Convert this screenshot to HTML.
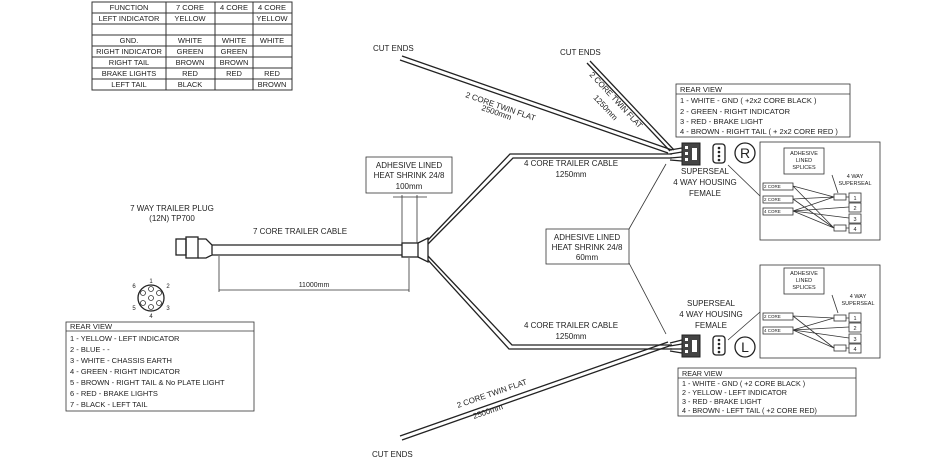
<!DOCTYPE html>
<html><head><meta charset="utf-8"><style>
html,body{margin:0;padding:0;background:#fff}
svg{display:block}
text{font-family:"Liberation Sans",sans-serif;fill:#222}
</style></head><body>
<svg width="945" height="462" viewBox="0 0 945 462" xmlns="http://www.w3.org/2000/svg">
<g stroke="#333" fill="none" stroke-width="1">
<rect x="92" y="2" width="200" height="88"/>
<line x1="166" y1="2" x2="166" y2="90"/><line x1="215" y1="2" x2="215" y2="90"/><line x1="253" y1="2" x2="253" y2="90"/>
<line x1="92" y1="13" x2="292" y2="13"/><line x1="92" y1="24" x2="292" y2="24"/><line x1="92" y1="35" x2="292" y2="35"/>
<line x1="92" y1="46" x2="292" y2="46"/><line x1="92" y1="57" x2="292" y2="57"/><line x1="92" y1="68" x2="292" y2="68"/><line x1="92" y1="79" x2="292" y2="79"/>
</g>
<g font-size="7.5" text-anchor="middle">
<text x="129" y="10">FUNCTION</text><text x="190" y="10">7 CORE</text><text x="234" y="10">4 CORE</text><text x="272" y="10">4 CORE</text>
<text x="129" y="21">LEFT INDICATOR</text><text x="190" y="21">YELLOW</text><text x="272" y="21">YELLOW</text>
<text x="129" y="43">GND.</text><text x="190" y="43">WHITE</text><text x="234" y="43">WHITE</text><text x="272" y="43">WHITE</text>
<text x="129" y="54">RIGHT INDICATOR</text><text x="190" y="54">GREEN</text><text x="234" y="54">GREEN</text>
<text x="129" y="65">RIGHT TAIL</text><text x="190" y="65">BROWN</text><text x="234" y="65">BROWN</text>
<text x="129" y="76">BRAKE LIGHTS</text><text x="190" y="76">RED</text><text x="234" y="76">RED</text><text x="272" y="76">RED</text>
<text x="129" y="87">LEFT TAIL</text><text x="190" y="87">BLACK</text><text x="272" y="87">BROWN</text>
</g>

<g stroke="#222" fill="none" stroke-width="1.3">
<rect x="176" y="239" width="10" height="16"/>
<rect x="186" y="237" width="12" height="21"/>
<path d="M198 239 L206 239 L212 245 L212 255 L206 258 L198 258"/>
<line x1="212" y1="245" x2="402" y2="245"/><line x1="212" y1="255" x2="402" y2="255"/>
<rect x="402" y="243" width="16" height="14"/>
<path d="M418 243 L428 238 L428 262 L418 257"/>
<path d="M428 240 L510 154 L672 154"/><path d="M428 244 L513 158 L672 158"/>
<path d="M428 256 L512 345 L672 345"/><path d="M428 260 L509 349 L672 349"/>
<path d="M402 56 L672 150"/><path d="M400 60 L668 153"/>
<path d="M590 61 L674 150"/><path d="M587 63 L670 151"/>
<path d="M402 440 L672 345"/><path d="M400 436 L668 342"/>
<path d="M670 150 L682 148 M670 154 L682 152 M670 158 L682 157 M670 160 L682 161"/>
<path d="M670 343 L682 340 M670 346 L682 344 M670 349 L682 349 M670 351 L682 353"/>
<rect x="713" y="144" width="12" height="19" rx="3"/>
<rect x="713" y="336" width="12" height="19" rx="3"/>
<circle cx="745" cy="153" r="10"/><circle cx="745" cy="347" r="10"/>
<circle cx="151" cy="298" r="13"/>
</g>
<g fill="#444" stroke="#222">
<rect x="682" y="143" width="18" height="22"/><rect x="682" y="335" width="18" height="22"/>
</g>
<g fill="#fff"><rect x="685" y="146" width="3" height="3"/><rect x="685" y="152" width="3" height="3"/><rect x="685" y="158" width="3" height="3"/><rect x="692" y="148" width="5" height="12"/>
<rect x="685" y="338" width="3" height="3"/><rect x="685" y="344" width="3" height="3"/><rect x="685" y="350" width="3" height="3"/><rect x="692" y="340" width="5" height="12"/></g>
<g fill="#222"><circle cx="719" cy="148" r="1.3"/><circle cx="719" cy="152" r="1.3"/><circle cx="719" cy="156" r="1.3"/><circle cx="719" cy="160" r="1.3"/>
<circle cx="719" cy="340" r="1.3"/><circle cx="719" cy="344" r="1.3"/><circle cx="719" cy="348" r="1.3"/><circle cx="719" cy="352" r="1.3"/></g>
<g fill="none" stroke="#333" stroke-width="0.8">
<circle cx="151" cy="289" r="2.5"/><circle cx="159" cy="293" r="2.5"/><circle cx="159" cy="303" r="2.5"/><circle cx="151" cy="307" r="2.5"/><circle cx="143" cy="303" r="2.5"/><circle cx="143" cy="293" r="2.5"/><circle cx="151" cy="298" r="2.5"/>
</g>
<g font-size="14" text-anchor="middle"><text x="745" y="158">R</text><text x="745" y="352">L</text></g>
<g font-size="6" text-anchor="middle"><text x="151" y="283">1</text><text x="168" y="288">2</text><text x="168" y="310">3</text><text x="151" y="318">4</text><text x="134" y="310">5</text><text x="134" y="288">6</text></g>

<g stroke="#333" fill="none" stroke-width="0.8">
<line x1="219" y1="256" x2="219" y2="292"/><line x1="409" y1="258" x2="409" y2="292"/><line x1="219" y1="290" x2="409" y2="290"/>
<line x1="402" y1="195" x2="402" y2="243"/><line x1="417" y1="195" x2="417" y2="243"/><line x1="393" y1="197" x2="427" y2="197"/>
<rect x="366" y="157" width="86" height="36"/>
<rect x="546" y="229" width="83" height="35"/>
<line x1="629" y1="229" x2="666" y2="164"/><line x1="629" y1="263" x2="666" y2="334"/>
<rect x="676" y="84" width="174" height="53"/><line x1="676" y1="94" x2="850" y2="94"/>
<rect x="678" y="368" width="178" height="48"/><line x1="678" y1="378" x2="856" y2="378"/>
<rect x="66" y="322" width="188" height="89"/><line x1="66" y1="331" x2="254" y2="331"/>
<rect x="760" y="142" width="120" height="98"/><line x1="760" y1="196" x2="728" y2="165"/>
<rect x="784" y="148" width="40" height="26"/>
<rect x="763" y="183" width="30" height="7"/><rect x="763" y="196" width="30" height="7"/><rect x="763" y="208" width="30" height="7"/>
<rect x="834" y="194" width="12" height="6"/><rect x="834" y="225" width="12" height="6"/>
<rect x="849" y="193" width="12" height="9"/><rect x="849" y="203" width="12" height="9"/><rect x="849" y="214" width="12" height="9"/><rect x="849" y="224" width="12" height="9"/>
<line x1="832" y1="175" x2="838" y2="193"/>
<path d="M793 186 L834 197 M793 199 L834 197 M793 211 L834 197 M793 186 L834 228 M793 199 L834 228 M793 211 L834 228 M793 211 L849 207 M793 211 L849 218 M846 197 L849 197 M846 228 L849 228"/>
<rect x="760" y="265" width="120" height="93"/><line x1="760" y1="312" x2="728" y2="340"/>
<rect x="784" y="268" width="40" height="26"/>
<rect x="763" y="313" width="30" height="7"/><rect x="763" y="327" width="30" height="7"/>
<rect x="834" y="315" width="12" height="6"/><rect x="834" y="345" width="12" height="6"/>
<rect x="849" y="313" width="12" height="9"/><rect x="849" y="323" width="12" height="9"/><rect x="849" y="334" width="12" height="9"/><rect x="849" y="344" width="12" height="9"/>
<line x1="832" y1="295" x2="838" y2="313"/>
<path d="M793 316 L834 318 M793 330 L834 318 M793 316 L834 348 M793 330 L834 348 M793 330 L849 327 M793 330 L849 338 M846 318 L849 318 M846 348 L849 348"/>
</g>

<g font-size="8">
<text x="373" y="51">CUT ENDS</text><text x="560" y="55">CUT ENDS</text><text x="372" y="457">CUT ENDS</text>
<text x="465" y="97" transform="rotate(19 465 97)">2 CORE TWIN FLAT</text>
<text x="481" y="110" transform="rotate(19 481 110)">2500mm</text>
<text x="589" y="75" transform="rotate(47 589 75)">2 CORE TWIN FLAT</text>
<text x="593" y="98" transform="rotate(47 593 98)">1250mm</text>
<text x="458" y="408" transform="rotate(-19 458 408)">2 CORE TWIN FLAT</text>
<text x="474" y="419" transform="rotate(-19 474 419)">2500mm</text>
</g>
<g font-size="8" text-anchor="middle">
<text x="409" y="168">ADHESIVE LINED</text><text x="409" y="178">HEAT SHRINK 24/8</text><text x="409" y="189">100mm</text>
<text x="587" y="240">ADHESIVE LINED</text><text x="587" y="250">HEAT SHRINK 24/8</text><text x="587" y="260">60mm</text>
<text x="571" y="166">4 CORE TRAILER CABLE</text><text x="571" y="177">1250mm</text>
<text x="571" y="328">4 CORE TRAILER CABLE</text><text x="571" y="339">1250mm</text>
<text x="300" y="234">7 CORE TRAILER CABLE</text>
<text x="172" y="211">7 WAY TRAILER PLUG</text><text x="172" y="221">(12N) TP700</text>
<text x="314" y="287" font-size="7">11000mm</text>
<text x="705" y="174">SUPERSEAL</text><text x="705" y="185">4 WAY HOUSING</text><text x="705" y="196">FEMALE</text>
<text x="711" y="306">SUPERSEAL</text><text x="711" y="317">4 WAY HOUSING</text><text x="711" y="328">FEMALE</text>
</g>
<g font-size="5.5" text-anchor="middle">
<text x="804" y="155">ADHESIVE</text><text x="804" y="162">LINED</text><text x="804" y="169">SPLICES</text>
<text x="855" y="178">4 WAY</text><text x="855" y="185">SUPERSEAL</text>
<text x="804" y="275">ADHESIVE</text><text x="804" y="282">LINED</text><text x="804" y="289">SPLICES</text>
<text x="858" y="298">4 WAY</text><text x="858" y="305">SUPERSEAL</text>
<text x="855" y="200">1</text><text x="855" y="210">2</text><text x="855" y="221">3</text><text x="855" y="231">4</text>
<text x="855" y="320">1</text><text x="855" y="330">2</text><text x="855" y="341">3</text><text x="855" y="351">4</text>
</g>
<g font-size="4.5"><text x="764" y="188">2 CORE</text><text x="764" y="201">2 CORE</text><text x="764" y="213">4 CORE</text>
<text x="764" y="318">2 CORE</text><text x="764" y="332">4 CORE</text></g>
<g font-size="7.5">
<text x="680" y="92">REAR VIEW</text>
<text x="680" y="103">1 - WHITE   - GND ( +2x2 CORE BLACK )</text>
<text x="680" y="114">2 - GREEN  - RIGHT INDICATOR</text>
<text x="680" y="124">3 - RED       - BRAKE LIGHT</text>
<text x="680" y="134">4 - BROWN - RIGHT TAIL ( + 2x2 CORE RED )</text>
</g>
<g font-size="7.2">
<text x="682" y="376">REAR VIEW</text>
<text x="682" y="386">1 - WHITE     - GND ( +2 CORE BLACK )</text>
<text x="682" y="395">2 - YELLOW  - LEFT INDICATOR</text>
<text x="682" y="404">3 - RED         - BRAKE LIGHT</text>
<text x="682" y="413">4 - BROWN   - LEFT TAIL ( +2 CORE RED)</text>
</g>
<g font-size="7.5">
<text x="70" y="329">REAR VIEW</text>
<text x="70" y="341">1 - YELLOW  - LEFT INDICATOR</text>
<text x="70" y="352">2 - BLUE        - -</text>
<text x="70" y="363">3 - WHITE     - CHASSIS EARTH</text>
<text x="70" y="374">4 - GREEN     - RIGHT INDICATOR</text>
<text x="70" y="385">5 - BROWN    - RIGHT TAIL &amp; No PLATE LIGHT</text>
<text x="70" y="396">6 - RED          -  BRAKE LIGHTS</text>
<text x="70" y="407">7 - BLACK     - LEFT TAIL</text>
</g>
</svg>
</body></html>
